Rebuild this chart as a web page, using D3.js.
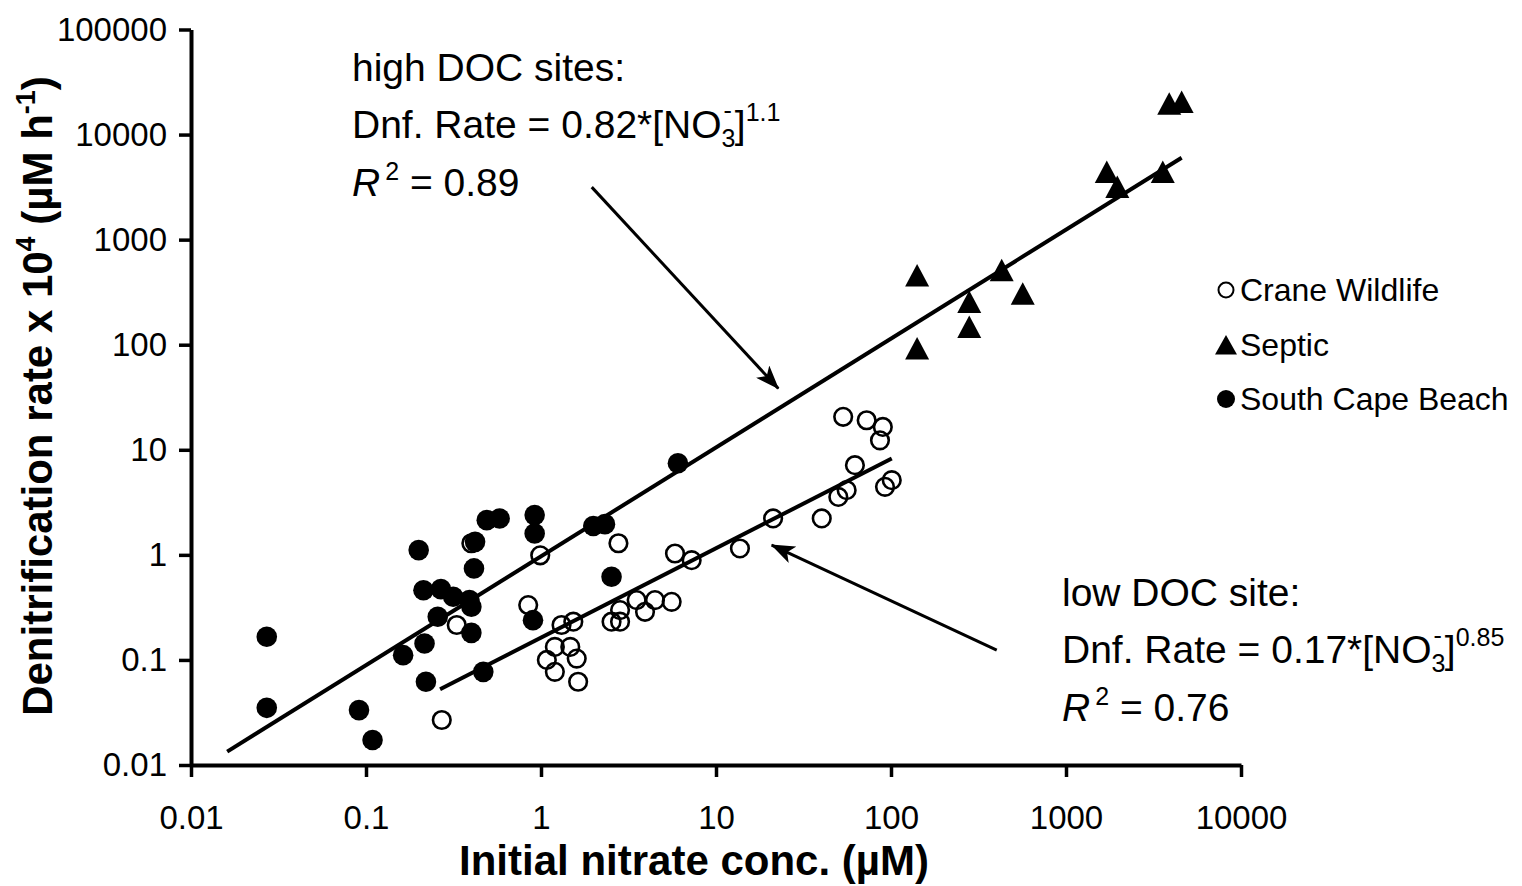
<!DOCTYPE html>
<html>
<head>
<meta charset="utf-8">
<script src="https://cdn.jsdelivr.net/npm/d3@7"></script>
<style>
  body { margin: 0; background: #fff; }
  svg { font-family: "Liberation Sans", Arial, sans-serif; }
</style>
</head>
<body>
<div id="chart"></div>
<script>
// Crane Wildlife (open circles)
var craneX = [0.271, 0.33, 0.40, 0.99, 0.845, 2.77, 1.31, 1.53, 1.2, 1.08, 1.47, 1.6, 1.2, 1.63,
              2.53, 2.83, 2.83, 3.52, 3.93, 4.48, 5.58, 5.83, 7.26, 13.7, 21.2, 40.2, 50, 55.8,
              62.2, 53.3, 72.6, 89.8, 86.5, 92.4, 101];
var craneY = [0.0268, 0.215, 1.29, 0.99, 0.333, 1.29, 0.215, 0.231, 0.133, 0.1, 0.133, 0.103, 0.077, 0.062,
              0.231, 0.231, 0.298, 0.371, 0.287, 0.371, 0.357, 1.03, 0.89, 1.15, 2.22, 2.22, 3.56, 4.13,
              7.13, 20.6, 19.1, 16.5, 12.3, 4.44, 5.14];

// Septic (triangles)
var septicX = [141, 141, 280, 280, 429, 566, 1710, 1964, 3573, 3890, 4580];
var septicY = [457, 91.9, 255, 147.5, 511, 306, 4395, 3163, 4395, 19650, 20370];

// South Cape Beach (filled circles)
var southX = [0.0271, 0.0271, 0.0912, 0.109, 0.163, 0.2, 0.213, 0.216, 0.22, 0.268, 0.257, 0.315, 0.39, 0.40,
              0.40, 0.414, 0.42, 0.49, 0.58, 0.92, 0.92, 0.90, 0.468, 1.99, 2.32, 2.53, 6.06];
var southY = [0.166, 0.035, 0.0333, 0.0173, 0.111, 1.11, 0.461, 0.1435, 0.062, 0.472, 0.258, 0.399, 0.371, 0.321,
              0.181, 0.743, 1.33, 2.14, 2.22, 2.39, 1.6, 0.239, 0.077, 1.88, 1.96, 0.618, 7.45];

// fitted lines, end points
var highFitX = [0.0161, 4580];
var highFitY = [0.0134, 6026];
var lowFitX = [0.265, 101];
var lowFitY = [0.0525, 8.26];

// arrows (from -> to)
var arrowHighX = [1.95, 22.7];
var arrowHighY = [3162, 38.3];
var arrowLowX = [402, 20.8];
var arrowLowY = [0.124, 1.24];

var xTicks = [0.01, 0.1, 1, 10, 100, 1000, 10000];
var xTickLabels = ["0.01", "0.1", "1", "10", "100", "1000", "10000"];
var yTicks = [0.01, 0.1, 1, 10, 100, 1000, 10000, 100000];
var yTickLabels = ["0.01", "0.1", "1", "10", "100", "1000", "10000", "100000"];

var seriesNames = ["Crane Wildlife", "Septic", "South Cape Beach"];

var width = 1522, height = 886;
var svg = d3.select("#chart").append("svg")
    .attr("width", width)
    .attr("height", height);

var x = d3.scaleLog().domain([0.01, 10000]).range([191, 1241]);
var y = d3.scaleLog().domain([0.01, 100000]).range([765, 29.5]);

function zip(xs, ys) {
    return xs.map(function (d, i) { return [d, ys[i]]; });
}

// axes
var xAxis = d3.axisBottom(x).tickValues(xTicks)
    .tickFormat(function (d, i) { return xTickLabels[i]; })
    .tickSize(12).tickSizeOuter(0).tickPadding(29);
var yAxis = d3.axisLeft(y).tickValues(yTicks)
    .tickFormat(function (d, i) { return yTickLabels[i]; })
    .tickSize(12).tickSizeOuter(0).tickPadding(12);

var gx = svg.append("g").attr("transform", "translate(0,765)").call(xAxis);
var gy = svg.append("g").attr("transform", "translate(191,0)").call(yAxis);
[gx, gy].forEach(function (g) {
    g.attr("font-family", null).attr("font-size", null);
    g.select(".domain").attr("stroke", "#000").attr("stroke-width", 4);
    g.selectAll(".tick line").attr("stroke", "#000").attr("stroke-width", 3.5);
    g.selectAll(".tick text").attr("fill", "#000").style("font-size", "33px");
});

// fit lines
var line = d3.line()
    .x(function (d) { return x(d[0]); })
    .y(function (d) { return y(d[1]); });

svg.append("path").datum(zip(highFitX, highFitY))
    .attr("d", line).attr("fill", "none").attr("stroke", "#000").attr("stroke-width", 4);
svg.append("path").datum(zip(lowFitX, lowFitY))
    .attr("d", line).attr("fill", "none").attr("stroke", "#000").attr("stroke-width", 4);

// arrows
svg.append("defs").append("marker")
    .attr("id", "head")
    .attr("viewBox", "0 0 24 18")
    .attr("refX", 23).attr("refY", 9)
    .attr("markerWidth", 24).attr("markerHeight", 18)
    .attr("markerUnits", "userSpaceOnUse")
    .attr("orient", "auto")
    .append("path").attr("d", "M0,0 L24,9 L0,18 L6,9 Z").attr("fill", "#000");

[zip(arrowHighX, arrowHighY), zip(arrowLowX, arrowLowY)].forEach(function (a) {
    svg.append("path").datum(a)
        .attr("d", line)
        .attr("fill", "none").attr("stroke", "#000").attr("stroke-width", 3)
        .attr("marker-end", "url(#head)");
});

// points
svg.append("g").selectAll("circle")
    .data(zip(craneX, craneY))
    .enter().append("circle")
    .attr("cx", function (d) { return x(d[0]); })
    .attr("cy", function (d) { return y(d[1]); })
    .attr("r", 8.8)
    .attr("fill", "none").attr("stroke", "#000").attr("stroke-width", 2.6);

svg.append("g").selectAll("circle")
    .data(zip(southX, southY))
    .enter().append("circle")
    .attr("cx", function (d) { return x(d[0]); })
    .attr("cy", function (d) { return y(d[1]); })
    .attr("r", 10.3)
    .attr("fill", "#000");

var tri = "M0,-11.5 L12,11 L-12,11 Z";
svg.append("g").selectAll("path")
    .data(zip(septicX, septicY))
    .enter().append("path")
    .attr("d", tri)
    .attr("transform", function (d) { return "translate(" + x(d[0]) + "," + y(d[1]) + ")"; })
    .attr("fill", "#000");

// legend
var legend = svg.append("g").attr("transform", "translate(1226,290)");
legend.append("circle").attr("cx", 0).attr("cy", 0).attr("r", 7.5)
    .attr("fill", "none").attr("stroke", "#000").attr("stroke-width", 2);
legend.append("path").attr("d", "M0,-10 L11,9.5 L-11,9.5 Z").attr("transform", "translate(0,55)").attr("fill", "#000");
legend.append("circle").attr("cx", 0).attr("cy", 109).attr("r", 9).attr("fill", "#000");
legend.selectAll("text")
    .data(seriesNames)
    .enter().append("text")
    .attr("x", 14)
    .attr("y", function (d, i) { return [0, 55, 109][i] + 11; })
    .style("font-size", "32px")
    .text(function (d) { return d; });

// annotations
function equation(x0, y0, head, coef, expo, r2) {
    var g = svg.append("g").style("font-size", "39px");
    g.append("text").attr("x", x0).attr("y", y0).text(head);
    var t = g.append("text").attr("x", x0).attr("y", y0 + 57);
    t.append("tspan").text("Dnf. Rate = " + coef + "*[NO");
    t.append("tspan").style("font-size", "25px").attr("dy", 9).text("3");
    t.append("tspan").style("font-size", "25px").attr("dx", -12).attr("dy", -28).text("-");
    t.append("tspan").attr("dx", 3).attr("dy", 19).text("]");
    t.append("tspan").style("font-size", "25px").attr("dy", -17).text(expo);
    var r = g.append("text").attr("x", x0).attr("y", y0 + 115);
    r.append("tspan").style("font-style", "italic").text("R");
    r.append("tspan").style("font-size", "25px").attr("dx", 5).attr("dy", -16).text("2");
    r.append("tspan").attr("dy", 16).text(" = " + r2);
}
equation(352, 81, "high DOC sites:", "0.82", "1.1", "0.89");
equation(1062, 606, "low DOC site:", "0.17", "0.85", "0.76");

// axis titles
svg.append("text")
    .attr("x", 694).attr("y", 875)
    .attr("text-anchor", "middle")
    .style("font-size", "42px").style("font-weight", "bold")
    .text("Initial nitrate conc. (µM)");

var yt = svg.append("text")
    .attr("transform", "translate(52,396) rotate(-90)")
    .attr("text-anchor", "middle")
    .style("font-size", "42px").style("font-weight", "bold");
yt.append("tspan").text("Denitrification rate x 10");
yt.append("tspan").style("font-size", "27px").attr("dy", -17).text("4");
yt.append("tspan").attr("dy", 17).text(" (µM h");
yt.append("tspan").style("font-size", "27px").attr("dy", -17).text("-1");
yt.append("tspan").attr("dy", 17).text(")");
</script>
</body>
</html>
